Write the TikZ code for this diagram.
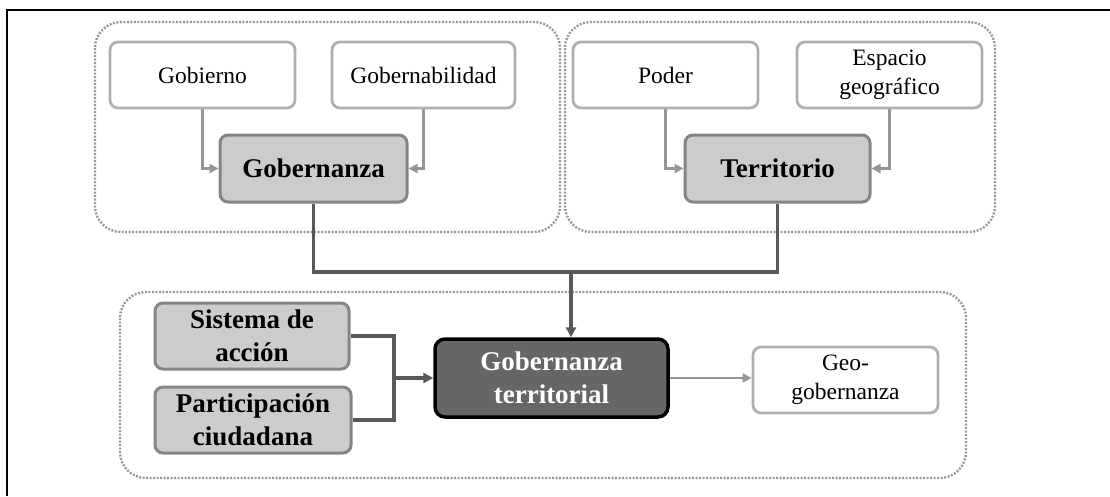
\documentclass[tikz,border=0pt]{standalone}
\usepackage{fontspec}
\setmainfont{Liberation Serif}
\usetikzlibrary{arrows.meta}
\definecolor{lightbd}{HTML}{B0B0B0}
\definecolor{midfill}{HTML}{CCCCCC}
\definecolor{midbd}{HTML}{858585}
\definecolor{darkfill}{HTML}{666666}
\definecolor{dotgray}{HTML}{999999}
\definecolor{lightarr}{HTML}{959595}
\definecolor{darkarr}{HTML}{595959}
\tikzset{
  whitebox/.style={draw=lightbd, line width=2.8pt, fill=white, rounded corners=8pt, inner sep=0pt, align=center,
    font=\fontsize{23.5}{29}\selectfont},
  graybox/.style={draw=midbd, line width=3pt, fill=midfill, rounded corners=8pt, inner sep=0pt, align=center,
    font=\fontsize{27}{33}\selectfont\bfseries},
  darkbox/.style={draw=black, line width=3.5pt, fill=darkfill, rounded corners=10pt, inner sep=0pt, align=center,
    text=white, font=\fontsize{27}{33}\selectfont\bfseries},
  group/.style={draw=dotgray, line width=2.4pt, dash pattern=on 2pt off 1.5pt, rounded corners=26pt},
  lightconn/.style={draw=lightarr, line width=2.8pt, -{Triangle[length=9pt,width=9pt]}},
  darkconn/.style={draw=darkarr, line width=3.2pt},
  darkarrow/.style={darkconn, -{Triangle[length=10pt,width=10pt]}},
}
\begin{document}
\begin{tikzpicture}[x=1pt,y=-1pt]
\useasboundingbox (0,0) rectangle (1110,496);
% frame
\draw[line width=2.5pt] (7,496) -- (7,10) -- (85,10);
\draw[line width=1.2pt] (85,10) -- (1044,10);
\draw[line width=2.5pt] (1044,10) -- (1110,10);
% groups
\draw[group] (95,22) rectangle (560,232);
\draw[group] (565,22) rectangle (995,232);
\draw[group] (120,292) rectangle (966,478);
% top-left
\node[whitebox, minimum width=185pt, minimum height=66pt] (gob) at (202.5,75) {Gobierno};
\node[whitebox, minimum width=183pt, minimum height=66pt] (gbl) at (423.5,75) {Gobernabilidad};
\node[graybox, minimum width=187pt, minimum height=67pt] (gz) at (313.5,168.5) {Gobernanza};
% top-right
\node[whitebox, minimum width=185pt, minimum height=66pt] (pod) at (665.5,75) {Poder};
\node[whitebox, minimum width=185pt, minimum height=66pt] (esp) at (889.5,75) {Espacio\\geográfico};
\node[graybox, minimum width=185pt, minimum height=67pt] (ter) at (777.5,168.5) {Territorio};
% bottom
\node[graybox, minimum width=194pt, minimum height=66pt] (sis) at (252,336) {Sistema de\\acción};
\node[graybox, minimum width=196pt, minimum height=66pt] (par) at (253,420) {Participación\\ciudadana};
\node[darkbox, minimum width=233pt, minimum height=78pt] (gt) at (551.5,378) {Gobernanza\\territorial};
\node[whitebox, minimum width=185pt, minimum height=66pt] (geo) at (845.5,380) {Geo-\\gobernanza};
% connectors top
\draw[lightconn] (gob.south) |- (gz.west);
\draw[lightconn] (gbl.south) |- (gz.east);
\draw[lightconn] (pod.south) |- (ter.west);
\draw[lightconn] (esp.south) |- (ter.east);
% merge
\coordinate (jl) at (313.5,272);
\coordinate (jr) at (777.5,272);
\coordinate (jm) at (571,272);
\draw[darkconn] (gz.south) -- (jl) -- (jr) -- (ter.south);
\draw[darkarrow] (jm) -- (jm |- gt.north);
% bottom merge
\coordinate (bt) at (394,336);
\coordinate (bb) at (394,420);
\coordinate (bm) at (394,378);
\draw[darkconn] (sis.east) -- (bt) -- (bb) -- (par.east);
\draw[darkarrow] (bm) -- (gt.west);
\draw[lightconn] (gt.east) -- (gt.east -| geo.west);
\end{tikzpicture}
\end{document}
